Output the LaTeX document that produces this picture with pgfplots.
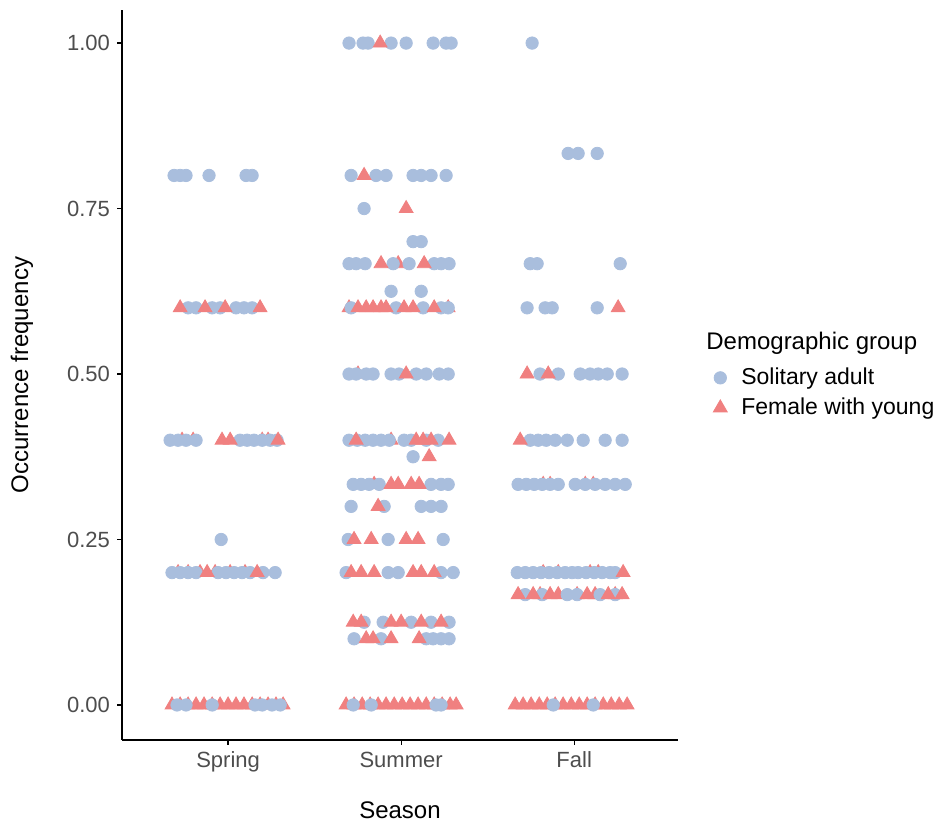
\documentclass[border=0pt]{standalone}
\usepackage{pgfplots}
\pgfplotsset{compat=1.18}
\usepackage{fontspec}
\setmainfont{Liberation Sans}
\definecolor{blueA}{RGB}{169,190,221}
\definecolor{redA}{RGB}{240,128,128}
\definecolor{tickgray}{RGB}{77,77,77}
\begin{document}
\begin{tikzpicture}
\useasboundingbox (0,0) rectangle (469.5pt,411.5pt);
\begin{axis}[
  at={(61pt,41.5pt)}, anchor=south west,
  scale only axis, width=278pt, height=365pt,
  xmin=0.387, xmax=3.6, ymin=-0.0529, ymax=1.05,
  axis x line*=bottom, axis y line*=left,
  axis line style={line width=0.6pt, black},
  xtick={1,2,3}, xticklabels={Spring,Summer,Fall},
  ytick={0,0.25,0.5,0.75,1},
  yticklabel style={/pgf/number format/.cd,fixed,fixed zerofill,precision=2},
  /pgf/number format/assume math mode=true,
  tick align=outside, major tick length=2.5pt,
  tick style={line width=0.6pt, black},
  ticklabel style={font=\fontsize{11}{13}\selectfont, text=tickgray},
  xlabel={Season}, ylabel={Occurrence frequency},
  label style={font=\fontsize{12}{14}\selectfont},
  xlabel style={at={(axis description cs:0.5,-0.0959)}, anchor=center},
  ylabel style={at={(axis description cs:-0.18,0.5)}, anchor=center},
  legend style={at={(axis description cs:1.052,0.4755)}, anchor=west, draw=none, fill=none,
    font=\fontsize{11.5}{13.8}\selectfont, row sep=1.2pt},
  legend cell align=left,
  legend image code/.code={\path[draw=none,fill=none] (-3.5pt,0pt) (8.5pt,0pt); \draw[#1] plot coordinates {(0pt,0pt)};},
]
% hidden red triangles (drawn beneath circles)
\addplot[only marks, mark=triangle*, mark size=4pt, color=redA, forget plot] coordinates {
(0.711,0.2)(0.769,0.2)(0.838,0.2)(0.925,0.2)(1.012,0.2)(1.098,0.2)
(0.734,0.4)(0.798,0.4)(1.197,0.4)(1.231,0.4)
(1.983,0.6667)(1.699,0.6)(2.272,0.6)(1.751,0.5)(1.942,0.4)(1.844,0.3333)
(2.821,0.3333)(2.861,0.3333)(3.064,0.3333)(3.110,0.3333)
(2.821,0.2)(2.908,0.2)(3.092,0.2)(3.139,0.2)
(2.803,0.1667)(2.908,0.1667)(3.017,0.1667)(3.121,0.1667)(3.237,0.1667)
};
% Solitary adult
\addplot[only marks, mark=*, mark size=3.1pt, color=blueA, mark options={draw=none, fill=blueA}] coordinates {
(0.688,0.8)(0.723,0.8)(0.757,0.8)(0.890,0.8)(1.104,0.8)(1.139,0.8)
(0.769,0.6)(0.815,0.6)(0.908,0.6)(0.954,0.6)(1.046,0.6)(1.092,0.6)(1.139,0.6)
(0.665,0.4)(0.711,0.4)(0.757,0.4)(0.815,0.4)(1.069,0.4)(1.110,0.4)(1.150,0.4)(1.197,0.4)(1.243,0.4)(1.283,0.4)
(0.960,0.25)
(0.676,0.2)(0.723,0.2)(0.769,0.2)(0.815,0.2)(0.942,0.2)(0.988,0.2)(1.035,0.2)(1.081,0.2)(1.127,0.2)(1.202,0.2)(1.272,0.2)
(1.699,1)(1.780,1)(1.809,1)(1.942,1)(2.029,1)(2.185,1)(2.260,1)(2.289,1)
(1.711,0.8)(1.855,0.8)(1.913,0.8)(2.069,0.8)(2.116,0.8)(2.173,0.8)(2.260,0.8)
(1.786,0.75)
(2.069,0.7)(2.116,0.7)
(1.699,0.6667)(1.740,0.6667)(1.792,0.6667)(1.954,0.6667)(2.046,0.6667)(2.191,0.6667)(2.231,0.6667)(2.277,0.6667)
(1.942,0.625)(2.116,0.625)
(1.711,0.6)(1.971,0.6)(2.127,0.6)(2.231,0.6)(2.272,0.6)
(1.699,0.5)(1.740,0.5)(1.798,0.5)(1.838,0.5)(1.942,0.5)(1.988,0.5)(2.087,0.5)(2.145,0.5)(2.220,0.5)(2.272,0.5)
(1.699,0.4)(1.746,0.4)(1.792,0.4)(1.838,0.4)(1.884,0.4)(1.931,0.4)(2.017,0.4)(2.058,0.4)(2.145,0.4)(2.214,0.4)
(2.069,0.375)
(1.723,0.3333)(1.769,0.3333)(1.815,0.3333)(1.873,0.3333)(2.173,0.3333)(2.231,0.3333)(2.272,0.3333)
(1.711,0.3)(1.902,0.3)(2.116,0.3)(2.173,0.3)(2.231,0.3)
(1.694,0.25)(1.925,0.25)(2.243,0.25)
(1.682,0.2)(1.925,0.2)(1.983,0.2)(2.231,0.2)(2.301,0.2)
(1.786,0.125)(1.896,0.125)(2.058,0.125)(2.173,0.125)(2.277,0.125)
(1.728,0.1)(1.884,0.1)(2.145,0.1)(2.185,0.1)(2.231,0.1)(2.277,0.1)
(2.757,1)
(2.965,0.8333)(3.023,0.8333)(3.133,0.8333)
(2.746,0.6667)(2.786,0.6667)(3.266,0.6667)
(2.728,0.6)(2.832,0.6)(2.873,0.6)(3.133,0.6)
(2.803,0.5)(2.908,0.5)(3.035,0.5)(3.092,0.5)(3.139,0.5)(3.191,0.5)(3.277,0.5)
(2.746,0.4)(2.792,0.4)(2.838,0.4)(2.890,0.4)(2.960,0.4)(3.052,0.4)(3.179,0.4)(3.277,0.4)
(2.676,0.3333)(2.723,0.3333)(2.769,0.3333)(2.815,0.3333)(2.861,0.3333)(2.908,0.3333)(3.006,0.3333)(3.064,0.3333)(3.121,0.3333)(3.179,0.3333)(3.237,0.3333)(3.295,0.3333)
(2.671,0.2)(2.717,0.2)(2.763,0.2)(2.809,0.2)(2.855,0.2)(2.902,0.2)(2.948,0.2)(2.988,0.2)(3.023,0.2)(3.069,0.2)(3.116,0.2)(3.162,0.2)(3.208,0.2)(3.237,0.2)
(2.717,0.1667)(2.815,0.1667)(2.960,0.1667)(3.017,0.1667)(3.150,0.1667)(3.237,0.1667)
};
\addlegendentry{Solitary adult}
% Female with young
\addplot[only marks, mark=triangle*, mark size=4pt, color=redA, mark options={draw=none, fill=redA}] coordinates {
(0.723,0.6)(0.867,0.6)(0.983,0.6)(1.185,0.6)
(0.965,0.4)(1.012,0.4)(1.289,0.4)
(0.879,0.2)(1.168,0.2)
(0.676,0)(0.723,0)(0.769,0)(0.815,0)(0.861,0)(0.908,0)(0.954,0)(1.000,0)(1.046,0)(1.092,0)(1.139,0)(1.185,0)(1.231,0)(1.277,0)(1.318,0)
(1.879,1)
(1.786,0.8)
(2.029,0.75)
(1.884,0.6667)(2.133,0.6667)
(1.751,0.6)(1.798,0.6)(1.838,0.6)(1.884,0.6)(1.913,0.6)(2.017,0.6)(2.069,0.6)(2.191,0.6)
(2.029,0.5)
(1.740,0.4)(2.087,0.4)(2.127,0.4)(2.173,0.4)(2.277,0.4)
(2.162,0.375)
(1.942,0.3333)(1.983,0.3333)(2.058,0.3333)(2.104,0.3333)
(1.867,0.3)
(1.728,0.25)(1.827,0.25)(2.029,0.25)(2.098,0.25)
(1.711,0.2)(1.769,0.2)(1.844,0.2)(2.069,0.2)(2.116,0.2)(2.191,0.2)
(1.723,0.125)(1.769,0.125)(1.942,0.125)(2.000,0.125)(2.116,0.125)(2.231,0.125)
(1.798,0.1)(1.838,0.1)(1.942,0.1)(2.104,0.1)
(1.682,0)(1.728,0)(1.775,0)(1.821,0)(1.867,0)(1.913,0)(1.960,0)(2.006,0)(2.052,0)(2.098,0)(2.145,0)(2.191,0)(2.237,0)(2.283,0)(2.318,0)
(3.254,0.6)
(2.728,0.5)(2.850,0.5)
(2.688,0.4)
(3.283,0.2)
(2.676,0.1667)(2.763,0.1667)(2.861,0.1667)(3.075,0.1667)(3.197,0.1667)(3.277,0.1667)
(2.659,0)(2.705,0)(2.751,0)(2.798,0)(2.844,0)(2.890,0)(2.936,0)(2.983,0)(3.029,0)(3.075,0)(3.121,0)(3.168,0)(3.214,0)(3.260,0)(3.306,0)
};
\addlegendentry{Female with young}
% circles drawn over the triangles
\addplot[only marks, mark=*, mark size=3.1pt, color=blueA, mark options={draw=none, fill=blueA}, forget plot] coordinates {
(0.705,0)(0.757,0)(0.908,0)(1.156,0)(1.197,0)(1.254,0)(1.301,0)
(1.723,0)(1.827,0)(2.202,0)(2.231,0)
(2.879,0)(3.110,0)
};
\end{axis}
\node[anchor=west, font=\fontsize{12}{14}\selectfont, inner sep=0pt] at (353pt,240pt) {Demographic group};
\end{tikzpicture}
\end{document}
